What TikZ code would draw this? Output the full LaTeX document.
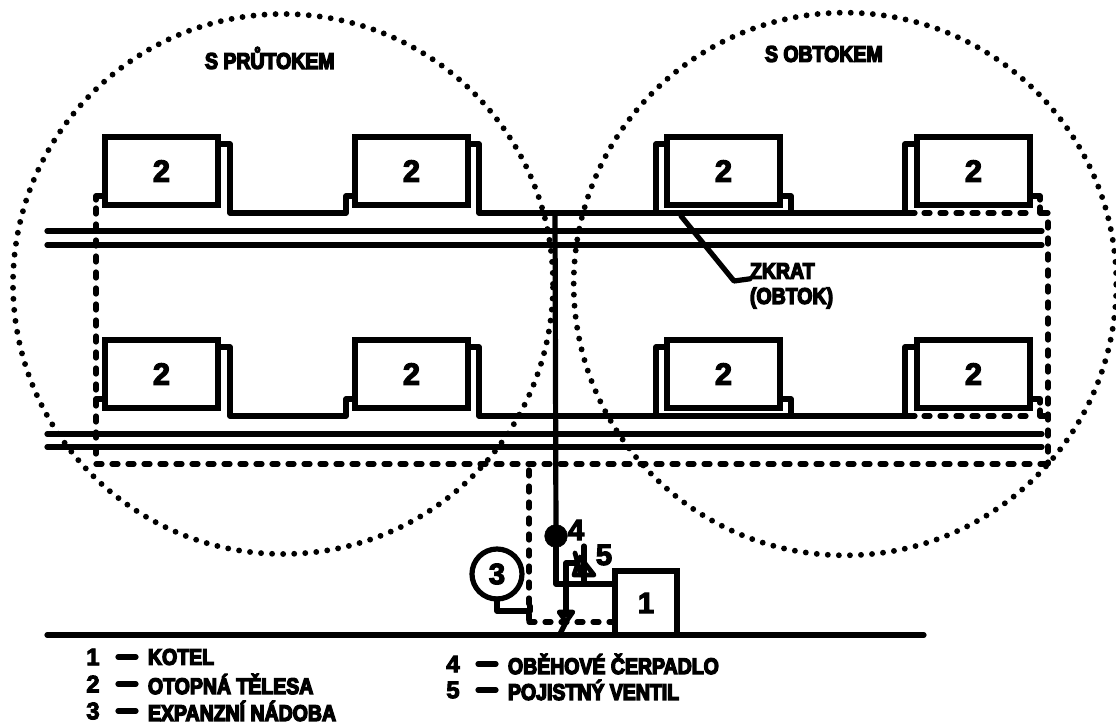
\documentclass[tikz,border=0pt]{standalone}
\usepackage{fontspec}
\newfontfamily\cadfont[UprightFont=* Bold,FakeBold=6,FakeStretch=0.86]{Liberation Sans}
\newfontfamily\cadnum[UprightFont=* Bold,FakeBold=4]{Liberation Sans}
\tikzset{
  x=0.75pt,y=-0.75pt,
  pipe/.style={line width=3.9pt,line join=round,line cap=round},
  dpipe/.style={line width=3.9pt,line cap=round,dash pattern=on 4.5pt off 7.5pt},
  ring/.style={line width=4.4pt,line cap=round,dash pattern=on 0pt off 8.3pt},
  radiator/.style={draw,line width=3.9pt,minimum width=84.75pt,minimum height=51pt,inner sep=0pt,outer sep=0pt,font=\cadnum\fontsize{23pt}{23pt}\selectfont},
  lbl/.style={inner sep=0pt,outer sep=0pt,anchor=west,font=\cadfont\fontsize{17pt}{17pt}\selectfont},
  num/.style={inner sep=0pt,outer sep=0pt,font=\cadnum\fontsize{22pt}{22pt}\selectfont},
}
\begin{document}
\begin{tikzpicture}
\useasboundingbox (0,0) rectangle (1116,724);
% zones
\coordinate (cl) at (283,284);
\coordinate (cr) at (845,284);
\draw[ring] (cl) circle[radius=202.5pt];
\draw[ring] (cr) circle[radius=203.5pt];
% rows
\foreach \row/\dy in {a/0,b/203}{
\begin{scope}[shift={(0,\dy)}]
  \node[radiator] (\row1) at (161.5,171) {2};
  \node[radiator] (\row2) at (411.5,171) {2};
  \node[radiator] (\row3) at (723.5,171) {2};
  \node[radiator] (\row4) at (973.5,171) {2};
  \coordinate (\row m) at (555,213);
  \draw[pipe] (\row1.east |- 0,144) -- (230,144) -- (230,213) -- (346,213) -- (346,196) -- (\row2.west |- 0,196);
  \draw[pipe] (\row2.east |- 0,144) -- (479,144) -- (479,213) -- (\row m);
  \draw[pipe] (\row m) -- (915,213);
  \draw[pipe] (905,213) -- (905,144) -- (\row4.west |- 0,144);
  \draw[pipe] (\row3.west |- 0,144) -- (656,144) -- (656,213);
  \draw[pipe] (\row3.east |- 0,196) -- (791,196) -- (791,213);
  \draw[pipe] (\row4.east |- 0,196) -- (1040,196) -- (1040,200);
  \draw[dpipe] (924,213) -- (1032,213);
  \draw[pipe] (1040,207) -- (1040,213) -- (1048,213);
  \draw[pipe] (\row1.west |- 0,196) -- (96,196) -- (96,200);
\end{scope}
}
% mains
\coordinate (m1l) at (47,231); \coordinate (m1r) at (1042,231);
\coordinate (m2l) at (47,245); \coordinate (m2r) at (1042,245);
\coordinate (m3l) at (47,434); \coordinate (m3r) at (1042,434);
\coordinate (m4l) at (47,447); \coordinate (m4r) at (1042,447);
\draw[pipe] (m1l) -- (m1r);
\draw[pipe] (m2l) -- (m2r);
\draw[pipe] (m3l) -- (m3r);
\draw[pipe] (m4l) -- (m4r);
% return
\coordinate (dl) at (96,208);
\coordinate (dbl) at (96,464);
\coordinate (dbr) at (1048,464);
\coordinate (dr) at (1048,222);
\coordinate (dm) at (529,470);
\coordinate (dc) at (529,622);
\draw[dpipe] (dl) -- (dbl) -- (dbr);
\draw[dpipe] (dr) -- (dbr);
\draw[dpipe] (dm) -- (dc);
% boiler
\coordinate (g1) at (47,635); \coordinate (g2) at (924,635);
\draw[pipe] (g1) -- (g2);
\node[draw,line width=3.9pt,minimum width=46.5pt,minimum height=48pt,inner sep=0pt,outer sep=0pt,fill=white,num] (boiler) at (646,603) {1};
\draw[dpipe] (dc) -- (boiler.west |- dc);
% supply
\coordinate (s1) at (555,213);
\node[circle,fill=black,draw=black,minimum size=17pt,inner sep=0pt,outer sep=0pt] (pump) at (556,536) {};
\draw[pipe] (s1) -- (pump);
\draw[pipe] (pump) -- (556,584) -- (boiler.west |- 0,584);
% expansion
\node[draw,circle,line width=3.9pt,minimum size=37.5pt,inner sep=0pt,outer sep=0pt,num] (tank) at (497,574) {3};
\draw[pipe] (tank.south) -- (497,611) -- (530,611) -- (530,606);
% safety valve
\coordinate (v1) at (566,584);
\draw[pipe] (566,615) -- (566,563) -- (575,563);
\draw[pipe] (584,584) -- (584,546);
\draw[line width=3.6pt,line join=round,line cap=round] (574,575) -- (594,575) -- (580,557) -- cycle;
\draw[line width=3.6pt,line cap=round] (575,553) -- (581,575);
% drain valve
\draw[line width=3.4pt,line join=round,line cap=round] (559,612) -- (573,612) -- (566,622) -- cycle;
\draw[pipe] (566,622) -- (560,634);
% labels
\node[num] (n4) at (576,530) {4};
\node[num] (n5) at (604,555) {5};
\node[lbl] (t1) at (205,58) {S PRŮTOKEM};
\node[lbl] (t2) at (765,54) {S OBTOKEM};
\node[lbl] (zk1) at (750,271) {ZKRAT};
\node[lbl] (zk2) at (750,298) {(OBTOK)};
\coordinate (zk0) at (681,216);
\draw[pipe] (zk0) -- (734,281) -- (zk1.south west);
% legend
\foreach \nm/\x/\y/\n/\t in {k1/93/657/1/KOTEL,k2/93/684/2/OTOPNÁ TĚLESA,k3/93/711/3/EXPANZNÍ NÁDOBA,k4/453/664/4/OBĚHOVÉ ČERPADLO,k5/453/690/5/POJISTNÝ VENTIL}{
  \node[num,font=\cadnum\fontsize{18pt}{18pt}\selectfont] (\nm n) at (\x,\y) {\n};
  \node[lbl] (\nm) at (\x+55,\y) {\t};
  \coordinate (\nm a) at (\x+25,\y);
  \coordinate (\nm b) at (\x+43,\y);
  \draw[pipe] (\nm a) -- (\nm b);
}
\end{tikzpicture}
\end{document}
